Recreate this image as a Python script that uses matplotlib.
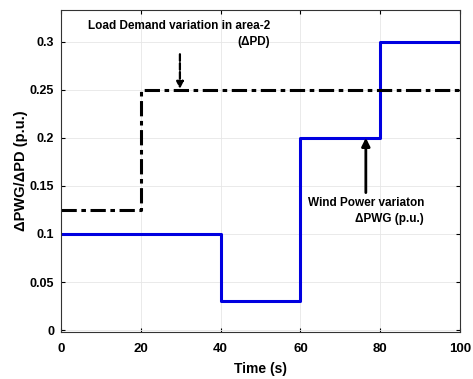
import matplotlib
matplotlib.use('Agg')
import matplotlib.pyplot as plt

# step profiles
time_pd = [0, 20, 20, 100]
delta_pd = [0.125, 0.125, 0.25, 0.25]

time_pwg = [0, 40, 40, 60, 60, 80, 80, 100]
delta_pwg = [0.1, 0.1, 0.03, 0.03, 0.2, 0.2, 0.3, 0.3]

x_ticks = [0, 20, 40, 60, 80, 100]
y_ticks = [0, 0.05, 0.1, 0.15, 0.2, 0.25, 0.3]
y_tick_labels = ['0', '0.05', '0.1', '0.15', '0.2', '0.25', '0.3']

plt.rcParams['font.family'] = ['Liberation Sans', 'DejaVu Sans']
plt.rcParams['font.weight'] = 'bold'

fig = plt.figure(figsize=(4.73, 3.79), dpi=100)
ax = fig.add_axes([0.129, 0.124, 0.8435, 0.8496])

ax.plot(time_pwg, delta_pwg, color='#0000e0', linewidth=2.2)
ax.plot(time_pd, delta_pd, color='black', linewidth=2.2, linestyle=(0, (5, 1.5, 1.5, 1.5)))

ax.set_xlim(0, 100)
ax.set_ylim(-0.002, 0.333)
ax.set_xticks(x_ticks)
ax.set_yticks(y_ticks)
ax.set_yticklabels(y_tick_labels)
ax.tick_params(direction='in', top=True, right=True, length=3, width=0.8)
ax.tick_params(axis='x', pad=8, labelsize=9.5)
ax.tick_params(axis='y', pad=5, labelsize=9)
for lbl in ax.get_xticklabels() + ax.get_yticklabels():
    lbl.set_fontweight('bold')
ax.grid(True, color='#e6e6e6', linewidth=0.6)
for s in ax.spines.values():
    s.set_color('#333333')
    s.set_linewidth(0.8)

ax.set_xlabel('Time (s)', fontsize=10, fontweight='bold', labelpad=5)
ax.set_ylabel('ΔPWG/ΔPD (p.u.)', fontsize=10.5, fontweight='bold', labelpad=1)

# annotations
ax.text(52.5, 0.308, 'Load Demand variation in area-2\n(ΔPD)', ha='right', va='center',
        fontsize=8.5, fontweight='bold', linespacing=1.5)
ax.annotate('', xy=(29.8, 0.251), xytext=(29.8, 0.287),
            arrowprops=dict(arrowstyle='-|>', color='black', lw=1.6, linestyle=(0, (3, 1)),
                            mutation_scale=10, shrinkA=0, shrinkB=0))

ax.text(91, 0.124, 'Wind Power variaton\nΔPWG (p.u.)', ha='right', va='center',
        fontsize=8.5, fontweight='bold', linespacing=1.5)
ax.annotate('', xy=(76.4, 0.2), xytext=(76.4, 0.143),
            arrowprops=dict(arrowstyle='-|>', color='black', lw=2, mutation_scale=12,
                            shrinkA=0, shrinkB=0))

fig.savefig('out.png', dpi=100)
